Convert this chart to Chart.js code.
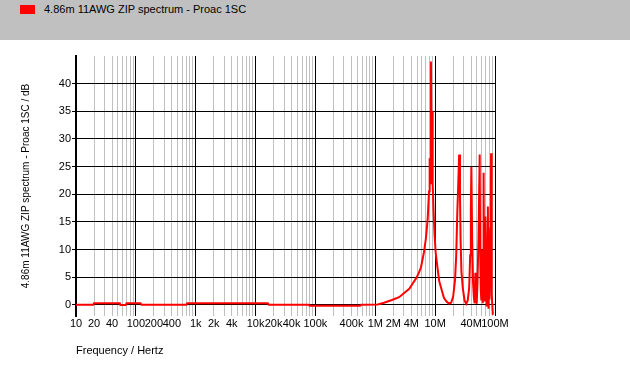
<!DOCTYPE html>
<html>
<head>
<meta charset="utf-8">
<title>ZIP spectrum</title>
<script src="https://cdn.jsdelivr.net/npm/chart.js@4/dist/chart.umd.min.js"></script>
<style>
    body { margin: 0; background: #fff; font-family: "Liberation Sans", Arial, sans-serif; }
    #header { position: relative; width: 630px; height: 40px; background: #c0c0c0; }
    #legendBox { position: absolute; left: 20px; top: 5px; width: 15px; height: 9px; }
    #legendText { position: absolute; left: 44px; top: 3px; font-size: 11px; color: #000; white-space: nowrap; }
    #wrap { width: 630px; height: 325px; }
</style>
</head>
<body>
<div id="header"><span id="legendBox"></span><span id="legendText"></span></div>
<div id="wrap"><canvas id="spectrumChart" width="630" height="325"></canvas></div>
<script>
// series name and colour
const seriesLabel = '4.86m 11AWG ZIP spectrum - Proac 1SC';
const seriesColor = '#ff0000';

// frequency (Hz) and level (dB)
const freqHz = [
    10, 19.5, 20, 54, 55, 68, 70, 120, 124, 700, 720, 16000, 16600, 77000, 80000, 560000, 580000,
    1.1e6, 1.4e6, 1.9e6, 2.5e6, 3.0e6, 3.7e6, 4.3e6, 4.8e6, 5.3e6, 5.8e6, 6.5e6, 7.0e6, 7.5e6,
    7.9e6, 8.1e6, 8.3e6, 8.5e6, 8.7e6, 8.9e6, 9.1e6, 9.4e6, 9.8e6, 10.2e6, 11e6, 11.7e6, 12.8e6,
    14e6, 15.5e6, 17e6, 18.5e6, 20e6, 21.5e6, 22.5e6, 23.5e6, 24.2e6, 25.2e6, 26e6, 26.6e6, 27.5e6,
    29e6, 31e6, 33e6, 35e6, 37e6, 38.5e6, 39.5e6, 40.3e6, 41.5e6, 43e6, 44.5e6, 45.6e6, 47e6,
    48e6, 49.5e6, 51e6, 53e6, 55.5e6, 56.5e6, 58e6, 59e6, 60.5e6, 62.5e6, 63.2e6, 64.5e6, 66e6,
    67.5e6, 69e6, 71e6, 72.5e6, 74e6, 76e6, 78e6, 79.5e6, 81e6, 83e6, 84.5e6, 86e6, 88e6, 92e6
];
const levelDb = [
    0.05, 0.05, 0.3, 0.3, 0.0, 0.0, 0.3, 0.3, 0.05, 0.05, 0.3, 0.3, 0.05, 0.05, -0.15, -0.15, 0.05,
    0.1, 0.4, 0.9, 1.4, 2.1, 2.9, 4.0, 4.8, 5.7, 6.8, 9.5, 12, 15.5,
    20.5, 26.5, 22, 44, 30, 35, 22, 17, 12.5, 9.5, 6.5, 4.3, 2.8,
    1.3, 0.6, 0.25, 0.4, 1.5, 4.5, 9, 17, 21, 27.2, 20, 12, 6,
    3, 0.8, 0.2, 0.8, 3, 9, 17, 25, 12, 4, 1.2, 0.3, 5.8,
    1.5, 0.2, 4, 12, 27.2, 10, 2.7, 1, 10, 0.3, 5, 23.9, 0.8,
    3, 16, 10, -0.3, 6, 17.8, -0.7, 10, 1, 14, 8, 27.4, 2, -1.8
];

// tick labels on the axes
const xTickLabels = [10, 20, 40, 100, 200, 400, 1e3, 2e3, 4e3, 1e4, 2e4, 4e4, 1e5, 4e5, 1e6, 2e6, 4e6, 1e7, 4e7, 1e8];
const yTicks = [0, 2.5, 5, 7.5, 10, 12.5, 15, 17.5, 20, 22.5, 25, 27.5, 30, 32.5, 35, 37.5, 40, 42.5];
const yLabelStep = 5;

const FONT = 'Liberation Sans';

// 1..9 x 10^n grid positions between 10 Hz and 100 MHz
function logGridValues() {
    const vals = [];
    for (let e = 1; e <= 8; e++) {
        for (let m = 1; m <= 9; m++) {
            if (e === 8 && m > 1) break;
            vals.push(m * Math.pow(10, e));
        }
    }
    return vals;
}

function isDecade(v) {
    const e = Math.round(Math.log10(v));
    return Math.abs(v - Math.pow(10, e)) < 1e-6 * v;
}

function formatFreq(v) {
    if (v >= 1e6) return Math.round(v / 1e6) + 'M';
    if (v >= 1e3) return Math.round(v / 1e3) + 'k';
    return String(Math.round(v));
}

function isLabelled(v) {
    return xTickLabels.some(t => Math.abs(t - v) < 1e-6 * t);
}

// header legend
document.getElementById('legendBox').style.background = seriesColor;
document.getElementById('legendText').textContent = seriesLabel;

Chart.defaults.font.family = FONT;
Chart.defaults.color = '#000';

const ctx = document.getElementById('spectrumChart');
new Chart(ctx, {
    type: 'scatter',
    data: {
        datasets: [{
            label: seriesLabel,
            data: freqHz.map((f, i) => ({ x: f, y: levelDb[i] })),
            showLine: true,
            borderColor: seriesColor,
            backgroundColor: seriesColor,
            borderWidth: 2,
            pointRadius: 0,
            tension: 0
        }]
    },
    options: {
        responsive: false,
        animation: false,
        layout: {
            padding: { top: 16, right: 135, left: 0, bottom: 0 }
        },
        plugins: {
            legend: { display: false },
            tooltip: { enabled: false }
        },
        scales: {
            x: {
                type: 'logarithmic',
                min: 10,
                max: 1e8,
                afterBuildTicks: scale => {
                    scale.ticks = logGridValues().map(v => ({ value: v }));
                },
                afterFit: scale => { scale.height = 49; },
                border: { display: false },
                grid: {
                    drawTicks: false,
                    color: c => (c.tick && isDecade(c.tick.value)) ? '#000' : '#c0c0c0',
                    lineWidth: 1
                },
                ticks: {
                    autoSkip: false,
                    maxRotation: 0,
                    minRotation: 0,
                    padding: 1,
                    font: { size: 11 },
                    callback: v => isLabelled(v) ? formatFreq(v) : ''
                },
                title: {
                    display: true,
                    text: 'Frequency / Hertz',
                    align: 'start',
                    font: { size: 11 },
                    padding: { top: 0, bottom: 7 }
                }
            },
            y: {
                min: -2,
                max: 45,
                afterBuildTicks: scale => {
                    scale.ticks = yTicks.map(v => ({ value: v }));
                },
                afterFit: scale => { scale.width = 76; },
                border: { display: true, color: '#000', width: 2 },
                grid: {
                    color: c => (c.tick && c.tick.value % yLabelStep === 0) ? '#000' : '#c0c0c0',
                    tickColor: '#000',
                    tickLength: 4,
                    lineWidth: 1
                },
                ticks: {
                    padding: 1,
                    font: { size: 11 },
                    callback: v => (v % yLabelStep === 0) ? String(v) : ''
                },
                title: {
                    display: true,
                    text: '4.86m 11AWG ZIP spectrum - Proac 1SC / dB',
                    font: { size: 10 },
                    padding: { top: 20, bottom: 0 }
                }
            }
        }
    }
});
</script>
</body>
</html>
